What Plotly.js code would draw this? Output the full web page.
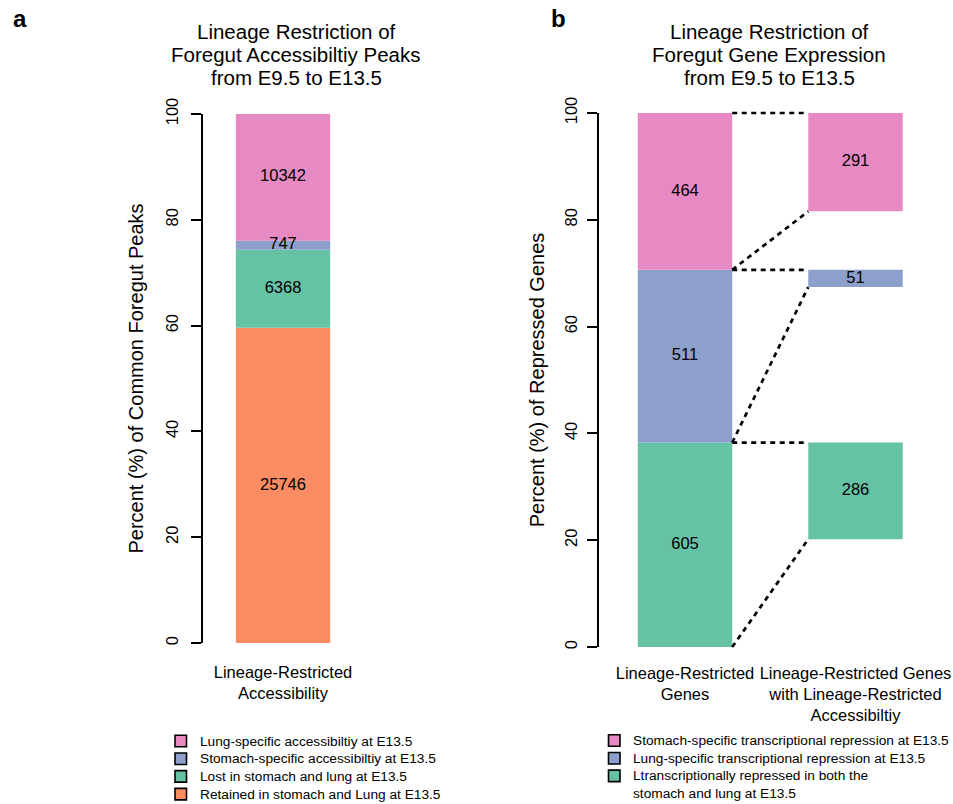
<!DOCTYPE html>
<html><head><meta charset="utf-8">
<script src="https://cdn.plot.ly/plotly-3.0.1.min.js"></script>
<style>html,body{margin:0;padding:0;background:#fff}#chart{width:953px;height:804px}</style>
</head><body><div id="chart"></div>
<script>
// ---------- data ----------
const catsA = ['Lineage-Restricted<br>Accessibility'];
const seriesA = ['Retained in stomach and Lung at E13.5', 'Lost in stomach and lung at E13.5',
                 'Stomach-specific accessibiltiy at E13.5', 'Lung-specific accessibiltiy at E13.5'];
const countsA = [25746, 6368, 747, 10342];
const colorsA = ['#FC8D62', '#66C2A5', '#8DA0CB', '#E78AC3'];

const catsB = ['Lineage-Restricted<br>Genes', 'Lineage-Restricted Genes<br>with Lineage-Restricted<br>Accessibiltiy'];
const seriesB = ['Ltranscriptionally repressed in both the<br>stomach and lung at E13.5',
                 'Lung-specific transcriptional repression at E13.5',
                 'Stomach-specific transcriptional repression at E13.5'];
const genesB = [605, 511, 464];      // Lineage-Restricted Genes
const overlapB = [286, 51, 291];     // with Lineage-Restricted Accessibility
const colorsB = ['#66C2A5', '#8DA0CB', '#E78AC3'];

const titleA = ['Lineage Restriction of', 'Foregut Accessibiltiy Peaks', 'from E9.5 to E13.5'];
const titleB = ['Lineage Restriction of', 'Foregut Gene Expression', 'from E9.5 to E13.5'];
const yTicks = [0, 20, 40, 60, 80, 100];

// ---------- helpers ----------
const W = 953, H = 804;
const px = v => v / W, py = v => 1 - v / H;
const FONT = 'Liberation Sans, Arial, Helvetica, sans-serif';
const sum = a => a.reduce((s, v) => s + v, 0);

const traces = [];

// ---------- panel a ----------
const totA = sum(countsA);
const pctA = countsA.map(v => v / totA * 100);
const baseA = []; { let c = 0; pctA.forEach(p => { baseA.push(c); c += p; }); }
const wA = 1;
countsA.forEach((v, i) => traces.push({
  type: 'bar', name: seriesA[i], x: [0], y: [pctA[i]], base: [baseA[i]], width: [wA],
  marker: { color: colorsA[i], line: { width: 0 } }, xaxis: 'x', yaxis: 'y',
  showlegend: false, hoverinfo: 'skip'
}));
traces.push({
  type: 'scatter', mode: 'text', x: countsA.map(() => 0),
  y: pctA.map((p, i) => baseA[i] + p / 2), text: countsA.map(String),
  textfont: { size: 16.5, color: '#000', family: FONT }, xaxis: 'x', yaxis: 'y',
  showlegend: false, hoverinfo: 'skip', cliponaxis: false
});

// ---------- panel b ----------
const totB = sum(genesB);
const pctB = genesB.map(v => v / totB * 100);
const baseB = []; { let c = 0; pctB.forEach(p => { baseB.push(c); c += p; }); }
const topB = baseB.map((b, i) => b + pctB[i]);
const pctO = overlapB.map(v => v / totB * 100);
const baseO = topB.map((t, i) => t - pctO[i]);
const wB = 0.554;
genesB.forEach((v, i) => traces.push({
  type: 'bar', name: seriesB[i], x: [0, 1], y: [pctB[i], pctO[i]], base: [baseB[i], baseO[i]],
  width: [wB, wB], marker: { color: colorsB[i], line: { width: 0 } }, xaxis: 'x2', yaxis: 'y2',
  showlegend: false, hoverinfo: 'skip'
}));
traces.push({
  type: 'scatter', mode: 'text',
  x: genesB.map(() => 0).concat(overlapB.map(() => 1)),
  y: pctB.map((p, i) => baseB[i] + p / 2).concat(pctO.map((p, i) => baseO[i] + p / 2)),
  text: genesB.map(String).concat(overlapB.map(String)),
  textfont: { size: 16.5, color: '#000', family: FONT }, xaxis: 'x2', yaxis: 'y2',
  showlegend: false, hoverinfo: 'skip', cliponaxis: false
});
// connectors (drawn on an invisible twin of panel b's axes with a little headroom so lines at 0/100 are not clipped)
const cx = [], cy = [];
const r = wB / 2, l = 1 - wB / 2;
genesB.forEach((v, i) => {
  cx.push(r, l, null, r, l, null);
  cy.push(topB[i], topB[i], null, baseB[i], baseO[i], null);
});
traces.push({
  type: 'scatter', mode: 'lines', x: cx, y: cy, connectgaps: false,
  line: { color: '#000', width: 2.7, dash: '5px,4.5px' }, xaxis: 'x3', yaxis: 'y3',
  showlegend: false, hoverinfo: 'skip'
});

// ---------- layout ----------
const yAxisBase = {
  range: [0, 100], tickvals: yTicks, ticktext: yTicks.map(String),
  showgrid: false, zeroline: false, showline: true, linecolor: '#000', linewidth: 2,
  ticks: 'outside', ticklen: 10, tickwidth: 2, tickcolor: '#000', tickangle: -90,
  tickfont: { size: 16.5, color: '#000', family: FONT }, automargin: false, fixedrange: true
};
const xAxisBase = {
  showgrid: false, zeroline: false, showline: false, ticks: '',
  tickfont: { size: 16.5, color: '#000', family: FONT }, automargin: false, fixedrange: true
};
const aC = 283, aPPU = 94.3, aL = 203, aR = 388;
const bC = 685, bPPU = 170.5, bL = 599, bR = 945;
const bTop = 113, bBot = 647, bYPPU = (bBot - bTop) / 100, pad = 5;

const annotations = [];
const shapes = [];
function ann(text, x, y, size, opts) {
  annotations.push(Object.assign({
    text, x: px(x), y: py(y), xref: 'paper', yref: 'paper', showarrow: false,
    xanchor: 'center', yanchor: 'middle', borderpad: 0,
    font: { size, color: '#000', family: FONT }
  }, opts || {}));
}
ann('<b>a</b>', 19.5, 18.6, 24);
ann('<b>b</b>', 558.5, 18.6, 24);
const titleY = [31.5, 55, 77.5];
titleA.forEach((t, i) => ann(t, 296, titleY[i], 20.5));
titleB.forEach((t, i) => ann(t, 769, titleY[i], 20.5));

// legends
const legFs = 13.7, legStep = 17.7, sq = 11.5;
function legend(labels, colors, sqX, textX, y0) {
  let y = y0;
  for (let i = labels.length - 1; i >= 0; i--) {
    shapes.push({
      type: 'rect', xref: 'paper', yref: 'paper',
      x0: px(sqX), x1: px(sqX + sq), y0: py(y - sq / 2), y1: py(y + sq / 2),
      fillcolor: colors[i], line: { color: '#000', width: 1.6 }
    });
    const nl = labels[i].split('<br>').length;
    ann(labels[i], textX, y + (nl - 1) * legFs * 1.3 / 2, legFs, { xanchor: 'left', align: 'left' });
    y += legStep * nl;
  }
}
legend(seriesA, colorsA, 175, 199, 741);
legend(seriesB, colorsB, 608.5, 632, 740.5);

const layout = {
  width: W, height: H, margin: { l: 0, r: 0, t: 0, b: 0, pad: 0 },
  paper_bgcolor: '#fff', plot_bgcolor: 'rgba(0,0,0,0)', barmode: 'overlay', showlegend: false,
  font: { family: FONT, color: '#000' },
  xaxis: Object.assign({}, xAxisBase, {
    domain: [px(aL), px(aR)], range: [(aL - aC) / aPPU, (aR - aC) / aPPU],
    tickvals: [0], ticktext: catsA, anchor: 'y', ticklabelstandoff: 17
  }),
  yaxis: Object.assign({}, yAxisBase, {
    domain: [py(643), py(114)], anchor: 'x', ticklabelstandoff: 6,
    title: { text: 'Percent (%) of Common Foregut Peaks', font: { size: 20, color: '#000', family: FONT }, standoff: 14 }
  }),
  xaxis2: Object.assign({}, xAxisBase, {
    domain: [px(bL), px(bR)], range: [(bL - bC) / bPPU, (bR - bC) / bPPU],
    tickvals: [0, 1], ticktext: catsB, anchor: 'y2', ticklabelstandoff: 14
  }),
  yaxis2: Object.assign({}, yAxisBase, {
    domain: [py(bBot), py(bTop)], anchor: 'x2', ticklabelstandoff: 3,
    title: { text: 'Percent (%) of Repressed Genes', font: { size: 20, color: '#000', family: FONT }, standoff: 12 }
  }),
  xaxis3: {
    domain: [px(bL), px(bR)], range: [(bL - bC) / bPPU, (bR - bC) / bPPU],
    visible: false, anchor: 'y3', fixedrange: true
  },
  yaxis3: {
    domain: [py(bBot + pad), py(bTop - pad)], range: [-pad / bYPPU, 100 + pad / bYPPU],
    visible: false, anchor: 'x3', fixedrange: true
  },
  annotations, shapes
};

Plotly.newPlot('chart', traces, layout, { staticPlot: true, displayModeBar: false });
</script>
</body></html>
